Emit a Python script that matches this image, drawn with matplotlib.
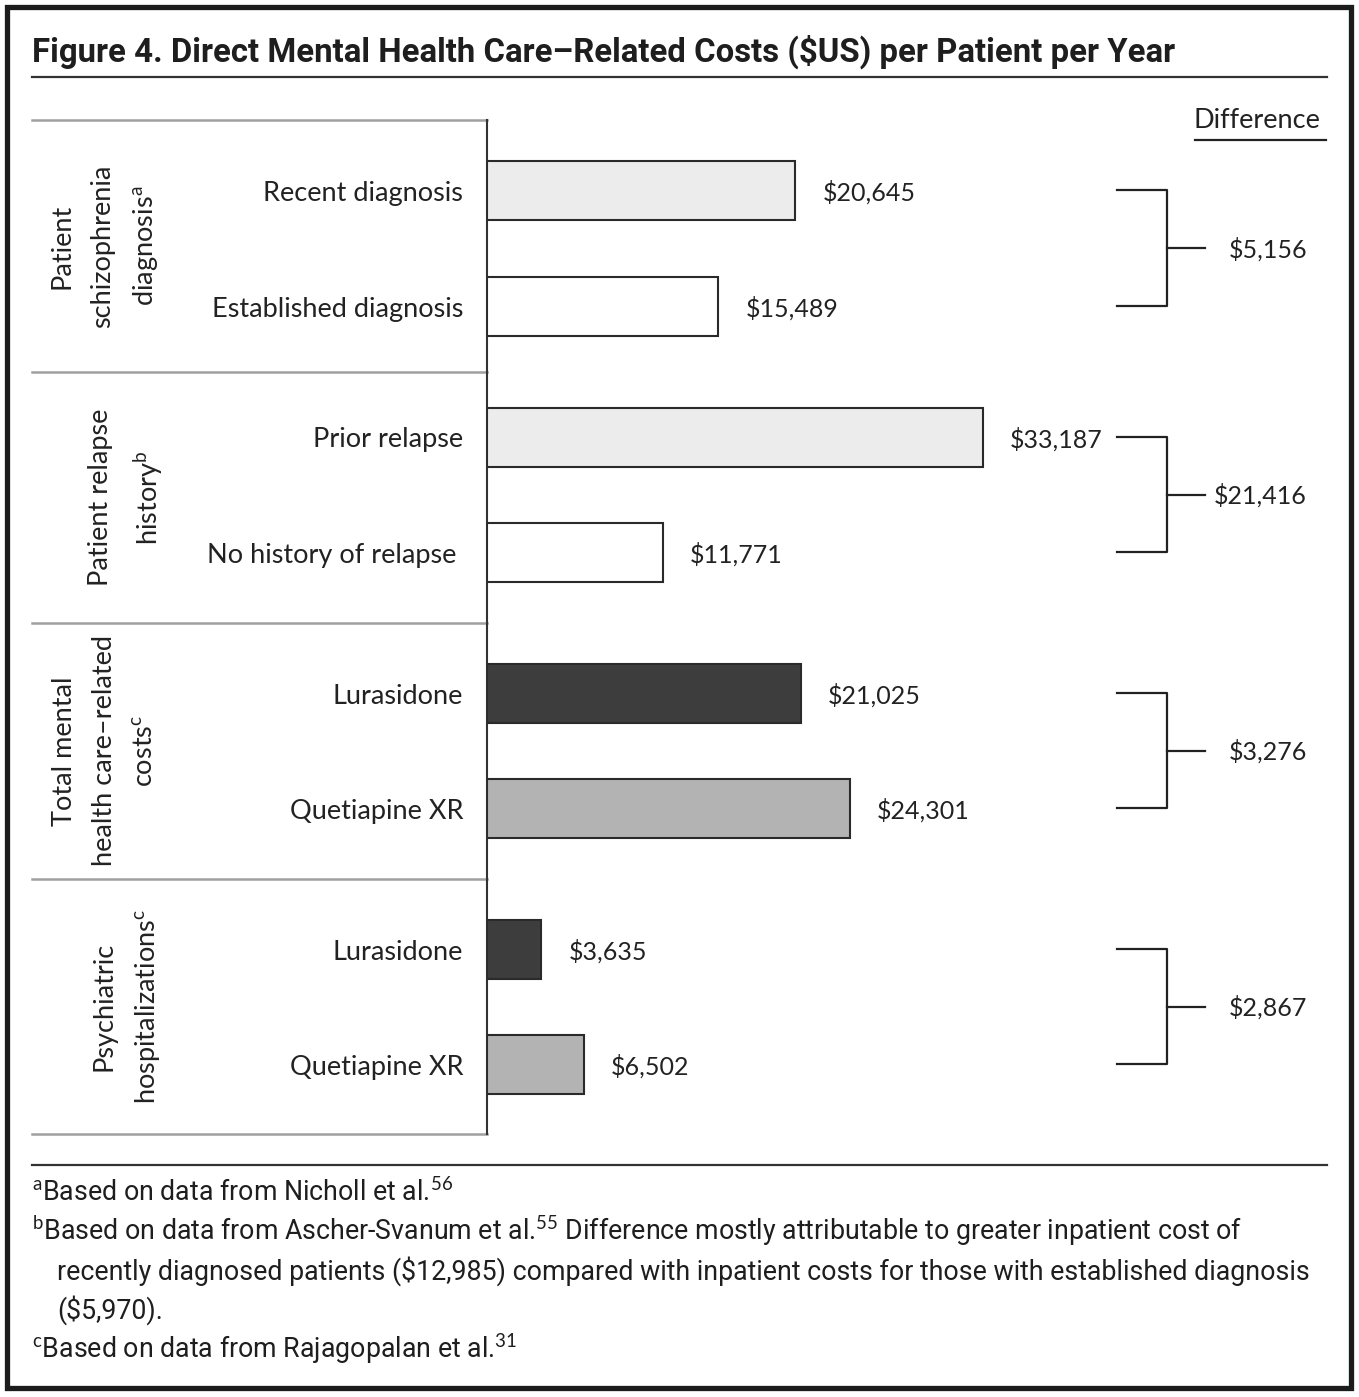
import matplotlib
matplotlib.use('Agg')
import matplotlib.pyplot as plt
from matplotlib.patches import Rectangle

plt.rcParams['mathtext.fontset'] = 'custom'
plt.rcParams['mathtext.rm'] = 'Lato'
plt.rcParams['mathtext.it'] = 'Lato:italic'
plt.rcParams['mathtext.bf'] = 'Lato:bold'

REG = ['Lato', 'DejaVu Sans']
NARROW = ['Liberation Sans Narrow', 'Roboto', 'DejaVu Sans']

# data
title = 'Figure 4. Direct Mental Health Care\u2013Related Costs (\\$US) per Patient per Year'
groups = ['Patient\nschizophrenia\ndiagnosis$^{\\mathrm{a}}$',
          'Patient relapse\nhistory$^{\\mathrm{b}}$',
          'Total mental\nhealth care\u2013related\ncosts$^{\\mathrm{c}}$',
          'Psychiatric\nhospitalizations$^{\\mathrm{c}}$']
labels = ['Recent diagnosis', 'Established diagnosis', 'Prior relapse', 'No history of relapse ',
          'Lurasidone', 'Quetiapine XR', 'Lurasidone', 'Quetiapine XR']
costs = [20645, 15489, 33187, 11771, 21025, 24301, 3635, 6502]
fills = ['#ececec', 'white', '#ececec', 'white', '#3d3d3d', '#b3b3b3', '#3d3d3d', '#b3b3b3']
diffs = [5156, 21416, 3276, 2867]
notes = ['${}^{\\mathrm{a}}$Based on data from Nicholl et al.$^{\\mathrm{56}}$',
         '${}^{\\mathrm{b}}$Based on data from Ascher-Svanum et al.$^{\\mathrm{55}}$ Difference mostly attributable to greater inpatient cost of',
         'recently diagnosed patients (\\$12,985) compared with inpatient costs for those with established diagnosis',
         '(\\$5,970).',
         '${}^{\\mathrm{c}}$Based on data from Rajagopalan et al.$^{\\mathrm{31}}$']
note_x = [32, 32, 57, 57, 32]

W, H = 1359, 1397
fig = plt.figure(figsize=(W/100, H/100), dpi=100)
renderer = fig.canvas.get_renderer()

# layout axes in pixel units
lay = fig.add_axes([0, 0, 1, 1])
lay.set_xlim(0, W)
lay.set_ylim(H, 0)
lay.axis('off')

base = 487          # pixel column of the bar baseline
px_per_usd = 0.01494
ax = fig.add_axes([base/W, 0, (W-base)/W, 1])
ax.set_xlim(0, (W-base)/px_per_usd)
ax.set_ylim(H, 0)
ax.axis('off')

rows = [120, 372, 623, 879, 1134]
offs = [(70, 186), (65, 180), (70, 185), (70, 185)]
ys = []
for r, (o1, o2) in zip(rows[:-1], offs):
    ys += [r + o1, r + o2]

ax.barh(ys, costs, height=59, color=fills, edgecolor='#2a2a2a', linewidth=1.5, zorder=3)
for y, c in zip(ys, costs):
    ax.annotate('\\${:,}'.format(c), (c, y), xytext=(19.5, -2), textcoords='offset points',
                ha='left', va='center', fontsize=18, family=REG, color='#222222')

for y, lab in zip(ys, labels):
    lay.text(463, y + 3, lab, ha='right', va='center', fontsize=19.5, family=REG, color='#222222')

# outer frame, rules and table
lay.add_patch(Rectangle((7, 7), 1344, 1381, fill=False, edgecolor='#1c1c1c', linewidth=3.8))
lay.plot([32, 1327], [77, 77], color='#333333', lw=1.6)
lay.plot([32, 1327], [1165, 1165], color='#333333', lw=1.6)
for r in rows:
    lay.plot([32, base], [r, r], color='#a0a0a0', lw=1.8)
lay.plot([base, base], [rows[0], rows[-1]], color='#333333', lw=1.5, zorder=4)

# fit narrow text to the widths seen in the figure
def fit(t, width):
    w = t.get_window_extent(renderer).width
    t.set_fontsize(t.get_fontsize() * width / w)

tt = lay.text(32, 62, title, ha='left', va='baseline', fontsize=24, fontweight='bold',
              family=NARROW, color='#1e1e1e')
fit(tt, 1143)

for i, g in enumerate(groups):
    n = g.count('\n') + 1
    xc = 148 - (n - 1) * 43 / 2
    yc = (rows[i] + rows[i+1]) / 2
    lay.text(xc, yc, g, rotation=90, ha='center', va='center', multialignment='center',
             fontsize=19.5, family=REG, color='#222222', linespacing=1.75)

# difference brackets
lay.text(1320, 120, 'Difference', ha='right', va='center', fontsize=19.5, family=REG, color='#222222')
lay.plot([1195, 1326], [140, 140], color='#222222', lw=1.6)
for i, d in enumerate(diffs):
    y1, y2 = ys[2*i], ys[2*i+1]
    ym = (y1 + y2) / 2
    lay.plot([1117, 1167, 1167, 1117], [y1, y1, y2, y2], color='#222222', lw=1.6)
    lay.plot([1167, 1205], [ym, ym], color='#222222', lw=1.6)
    lay.text(1307, ym + 1, '\\${:,}'.format(d), ha='right', va='center', fontsize=18,
             family=REG, color='#222222')

# footnotes
nts = []
for k, (t, x) in enumerate(zip(notes, note_x)):
    nts.append(lay.text(x, 1201 + k*39.3, t, ha='left', va='baseline', fontsize=21,
                        family=NARROW, color='#1e1e1e'))
w2 = nts[1].get_window_extent(renderer).width
for t in nts:
    t.set_fontsize(21 * 1206 / w2)

fig.savefig('out.png', dpi=100)
